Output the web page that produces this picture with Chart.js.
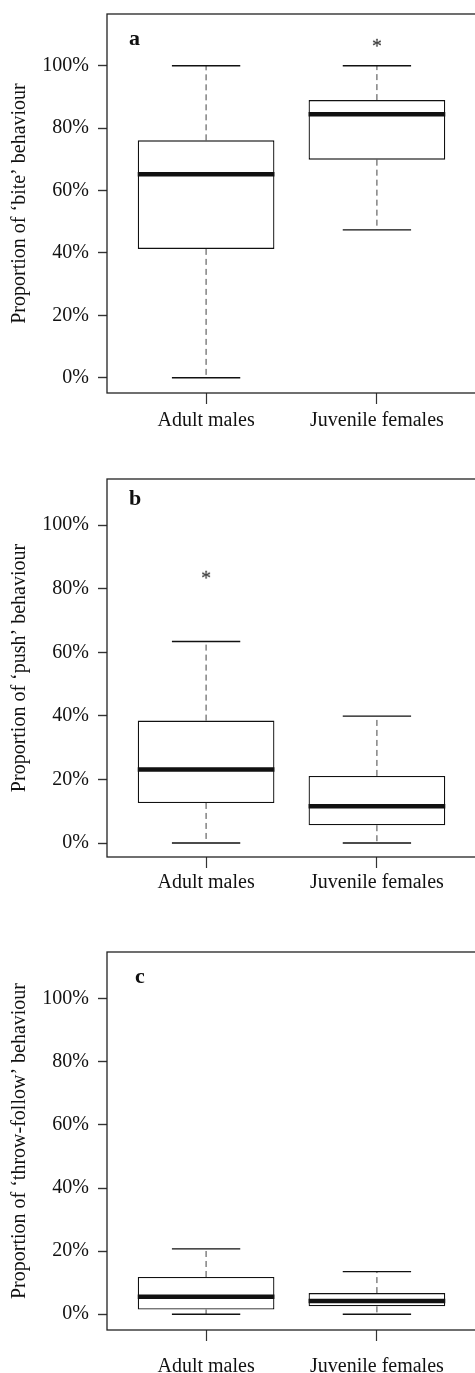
<!DOCTYPE html>
<html>
<head>
<meta charset="utf-8">
<script src="https://cdn.jsdelivr.net/npm/chart.js@4.4.0/dist/chart.umd.min.js"></script>
<style>
  html, body { margin: 0; padding: 0; background: #fff; overflow: hidden; width: 475px; height: 1373px; }
  .panel { position: absolute; left: 0; width: 485px; }
</style>
</head>
<body>
<div class="panel" style="top:0;height:440px"><canvas id="biteChart"></canvas></div>
<div class="panel" style="top:440px;height:460px"><canvas id="pushChart"></canvas></div>
<div class="panel" style="top:900px;height:473px"><canvas id="throwChart"></canvas></div>
<script>
// =============================================================================
// Boxplots: proportion of each behaviour, adult males vs juvenile females
// =============================================================================

const groups = ["Adult males", "Juvenile females"];
const groupX = [1, 2];
const yTicks = [0, 20, 40, 60, 80, 100];

// (a) bite
const biteLow = [0, 47.4];
const biteQ1 = [41.3, 69.9];
const biteMedian = [65.2, 84.5];
const biteQ3 = [76.1, 89.0];
const biteHigh = [100, 100];
const biteStars = [{ x: 2, y: 107.7 }];

// (b) push
const pushLow = [0, 0];
const pushQ1 = [12.6, 5.6];
const pushMedian = [23.1, 11.6];
const pushQ3 = [38.5, 21.1];
const pushHigh = [63.4, 39.9];
const pushStars = [{ x: 1, y: 84.7 }];

// (c) throw-follow
const throwLow = [0, 0];
const throwQ1 = [1.5, 2.5];
const throwMedian = [5.5, 4.2];
const throwQ3 = [11.8, 6.7];
const throwHigh = [20.7, 13.5];
const throwStars = [];

const FONT = "'Liberation Serif', 'Times New Roman', serif";
const INK = "#111";

// asterisk marker drawn from the serif font
const starImg = document.createElement("canvas");
starImg.width = 14; starImg.height = 14;
(() => {
  const c = starImg.getContext("2d");
  c.fillStyle = INK;
  c.font = "20px " + FONT;
  c.textAlign = "center";
  c.textBaseline = "alphabetic";
  c.fillText("*", 7, 17.5);
})();

// horizontal segments centred on each group
function hSegs(vals, half) {
  const pts = [];
  vals.forEach((v, i) => {
    pts.push({ x: groupX[i] - half, y: v }, { x: groupX[i] + half, y: v }, { x: groupX[i], y: null });
  });
  return pts;
}
// vertical whiskers from box edges to the extremes
function whiskers(lo, q1, q3, hi) {
  const pts = [];
  groupX.forEach((x, i) => {
    pts.push({ x, y: q3[i] }, { x, y: hi[i] }, { x, y: null });
    pts.push({ x, y: q1[i] }, { x, y: lo[i] }, { x, y: null });
  });
  return pts;
}

const framePlugin = {
  id: "frame",
  afterDraw(chart, args, opts) {
    const { ctx, chartArea: a } = chart;
    ctx.save();
    ctx.strokeStyle = "#222";
    ctx.lineWidth = 1.3;
    ctx.strokeRect(a.left, a.top, a.right - a.left, a.bottom - a.top);
    ctx.fillStyle = INK;
    ctx.font = "bold 22px " + FONT;
    ctx.textBaseline = "alphabetic";
    ctx.fillText(opts.letter, a.left + opts.dx, a.top + opts.dy);
    ctx.restore();
  }
};

function boxChart(id, p) {
  new Chart(document.getElementById(id), {
    type: "bar",
    data: {
      datasets: [
        { type: "line", data: hSegs(p.median, 0.4), borderColor: INK, borderWidth: 4.5, pointRadius: 0 },
        { type: "line", data: p.stars, showLine: false, pointStyle: starImg, pointRadius: 5 },
        {
          type: "bar",
          data: groupX.map((x, i) => ({ x, y: [p.q1[i], p.q3[i]] })),
          backgroundColor: "#fff", borderColor: INK, borderWidth: 1.3, borderSkipped: false,
          barPercentage: 1, categoryPercentage: 0.8,
        },
        { type: "line", data: hSegs(p.low, 0.2).concat(hSegs(p.high, 0.2)),
          borderColor: INK, borderWidth: 1.4, pointRadius: 0 },
        { type: "line", data: whiskers(p.low, p.q1, p.q3, p.high), borderColor: "#444", borderWidth: 1,
          borderDash: [6, 4], pointRadius: 0 },
      ]
    },
    options: {
      responsive: true,
      maintainAspectRatio: false,
      animation: false,
      events: [],
      layout: { padding: { left: 8, top: p.padTop, right: 9, bottom: 0 } },
      plugins: { legend: { display: false }, tooltip: { enabled: false },
        frame: { letter: p.letter, dx: p.letterDx, dy: p.letterDy } },
      scales: {
        x: {
          type: "linear", min: 0.42, max: 2.58, offset: false,
          grid: { drawOnChartArea: false, offset: false, tickLength: 11, tickColor: "#333", tickWidth: 1.2 },
          border: { display: false },
          afterBuildTicks: s => { s.ticks = groupX.map(v => ({ value: v })); },
          afterFit: s => { s.height = p.xHeight; s.paddingLeft = 0; s.paddingRight = 0; },
          ticks: { padding: p.xPad, color: INK, font: { family: FONT, size: 20 }, maxRotation: 0,
            callback: v => groups[groupX.indexOf(v)] },
        },
        y: {
          min: p.yMin, max: p.yMax,
          grid: { drawOnChartArea: false, tickLength: 9, tickColor: "#333", tickWidth: 1.4 },
          border: { display: false },
          afterBuildTicks: s => { s.ticks = yTicks.map(v => ({ value: v })); },
          afterFit: s => { s.width = 99; s.paddingTop = 0; s.paddingBottom = 0; },
          ticks: { padding: 9, color: INK, font: { family: FONT, size: 20 }, callback: v => v + "%" },
          title: { display: true, text: p.title, color: INK, font: { family: FONT, size: 20 }, padding: 0 },
        }
      }
    },
    plugins: [framePlugin]
  });
}

boxChart("biteChart", {
  low: biteLow, q1: biteQ1, median: biteMedian, q3: biteQ3, high: biteHigh, stars: biteStars,
  title: "Proportion of \u2018bite\u2019 behaviour", letter: "a", letterDx: 22, letterDy: 31,
  yMin: -4.9, yMax: 116.6, padTop: 14, xHeight: 47, xPad: 5,
});
boxChart("pushChart", {
  low: pushLow, q1: pushQ1, median: pushMedian, q3: pushQ3, high: pushHigh, stars: pushStars,
  title: "Proportion of \u2018push\u2019 behaviour", letter: "b", letterDx: 22, letterDy: 26,
  yMin: -4.4, yMax: 114.5, padTop: 39, xHeight: 43, xPad: 3,
});
boxChart("throwChart", {
  low: throwLow, q1: throwQ1, median: throwMedian, q3: throwQ3, high: throwHigh, stars: throwStars,
  title: "Proportion of \u2018throw-follow\u2019 behaviour", letter: "c", letterDx: 28, letterDy: 31,
  yMin: -5.0, yMax: 114.8, padTop: 52, xHeight: 43, xPad: 14,
});
</script>
</body>
</html>
